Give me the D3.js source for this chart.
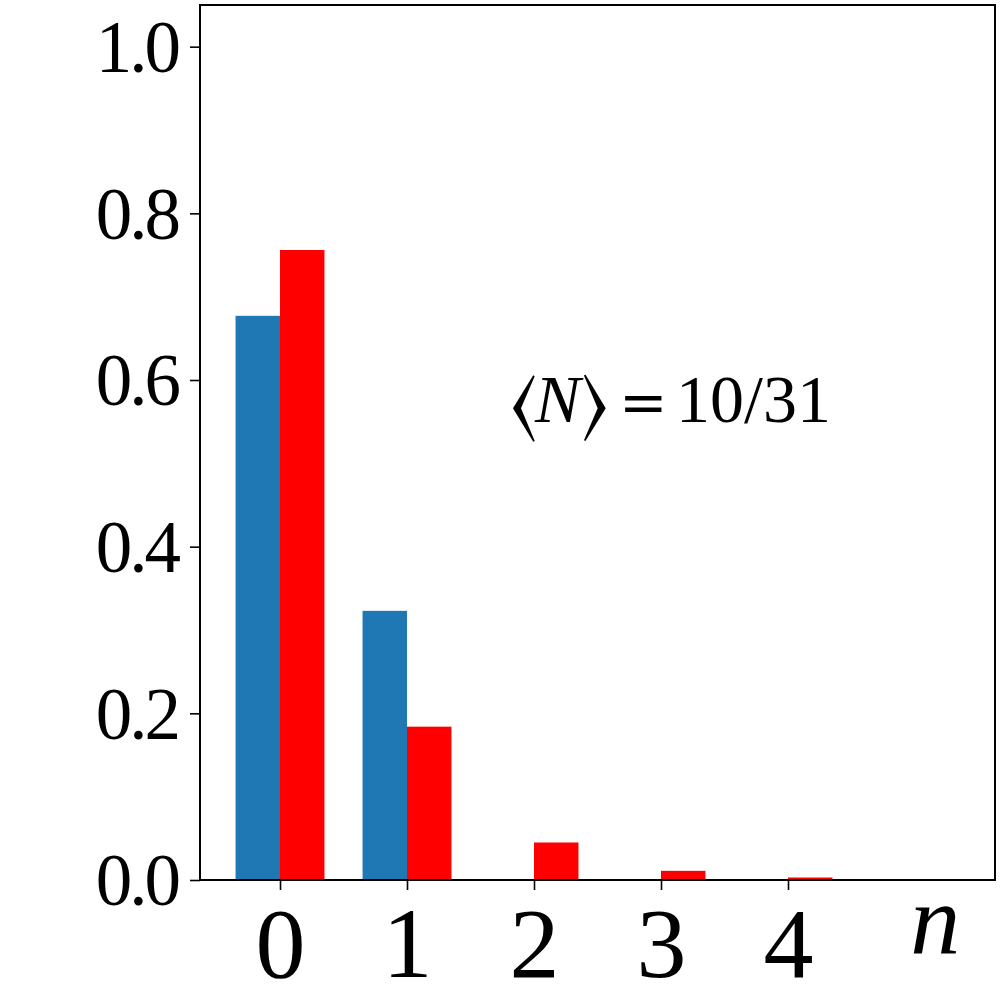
<!DOCTYPE html>
<html><head><meta charset="utf-8">
<script src="https://cdn.jsdelivr.net/npm/d3@7"></script>
<style>body{margin:0;background:#fff}</style>
</head><body>
<svg id="c" width="1000" height="1000"></svg>
<script>
const categories = [0, 1, 2, 3, 4];
const blueValues = [0.677, 0.323, 0, 0, 0];
const redValues = [0.756, 0.184, 0.045, 0.011, 0.003];
const yTicks = [0.0, 0.2, 0.4, 0.6, 0.8, 1.0];
const annotation = "10/31";

const L = 200, R = 995, T = 5, B = 880;
const svg = d3.select("#c");
const x = d3.scaleLinear().domain([-0.63, 5.63]).range([L, R]);
const y = d3.scaleLinear().domain([0, 1.05]).range([B, T]);
const bw = 0.35;
const font = '"Liberation Serif", "Times New Roman", serif';

svg.append("g").selectAll("rect").data(categories).join("rect")
  .attr("x", (d) => x(d - bw)).attr("width", (d) => x(d) - x(d - bw))
  .attr("y", (d, i) => y(blueValues[i])).attr("height", (d, i) => y(0) - y(blueValues[i]))
  .attr("fill", "#1f77b4");
svg.append("g").selectAll("rect").data(categories).join("rect")
  .attr("x", (d) => x(d)).attr("width", (d) => x(d + bw) - x(d))
  .attr("y", (d, i) => y(redValues[i])).attr("height", (d, i) => y(0) - y(redValues[i]))
  .attr("fill", "#ff0000");

const xa = svg.append("g").attr("transform", `translate(0,${B})`)
  .call(d3.axisBottom(x).tickValues(categories).tickFormat(d3.format("d")).tickSize(10).tickPadding(16));
xa.select(".domain").remove();
xa.selectAll("line").attr("stroke", "#000").attr("stroke-width", 1.6);
xa.selectAll("text").style("font-family", font).attr("font-size", 100).attr("fill", "#000").attr("dy", "0.71em");

const ya = svg.append("g").attr("transform", `translate(${L},0)`)
  .call(d3.axisLeft(y).tickValues(yTicks).tickFormat(d3.format(".1f")).tickSize(10).tickPadding(12));
ya.select(".domain").remove();
ya.selectAll("line").attr("stroke", "#000").attr("stroke-width", 1.6);
ya.selectAll("text").style("font-family", font).attr("font-size", 73).style("letter-spacing", "-3px")
  .attr("fill", "#000").attr("dy", "0.34em");

svg.append("rect").attr("x", L).attr("y", T).attr("width", R - L).attr("height", B - T)
  .attr("fill", "none").attr("stroke", "#000").attr("stroke-width", 2);

svg.append("text").attr("x", x(5.16)).attr("y", 953).attr("text-anchor", "middle")
  .style("font-family", font).attr("font-size", 100).attr("font-style", "italic").text("n");

const t = svg.append("text").attr("y", 422).style("font-family", font).attr("font-size", 68);
t.append("tspan").attr("x", 511).attr("dy", 6).style("font-family", '"FreeSerif", serif').attr("font-size", 78).text("⟨");
t.append("tspan").attr("x", 535).attr("dy", -6).attr("font-style", "italic").text("N");
t.append("tspan").attr("x", 582).attr("dy", 6).style("font-family", '"FreeSerif", serif').attr("font-size", 78).text("⟩");
t.append("tspan").attr("x", 619).attr("dy", -6).style("font-family", '"DejaVu Serif", serif').attr("font-size", 58).text("=");
t.append("tspan").attr("x", 676).text(annotation);
</script>
</body></html>
